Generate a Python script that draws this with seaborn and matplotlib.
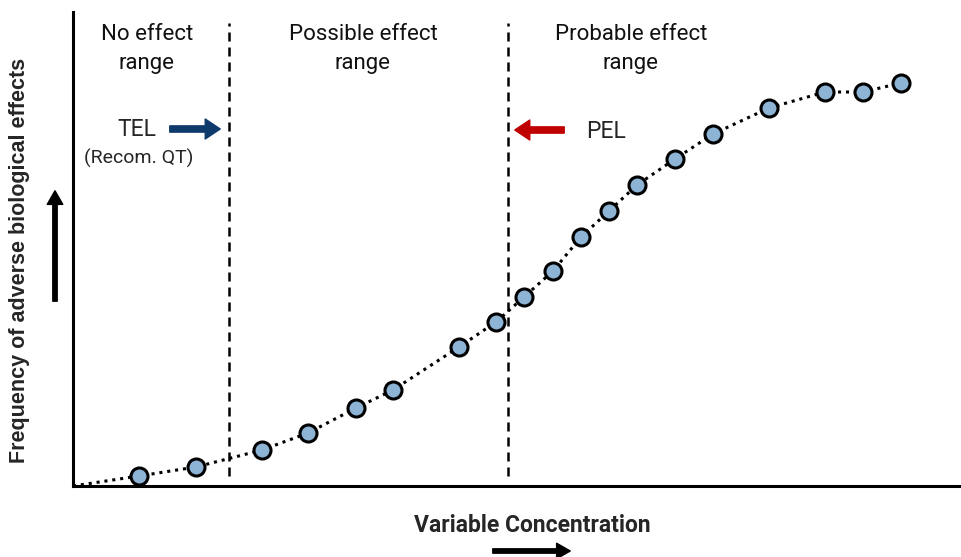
import matplotlib
matplotlib.use("Agg")
import matplotlib.pyplot as plt
import seaborn as sns
import pandas as pd

# ---- data ----
concentration = [6.6, 12.3, 18.9, 23.5, 28.3, 32.0, 38.6, 42.3, 45.1, 48.0,
                 50.8, 53.6, 56.4, 60.2, 64.0, 69.6, 75.2, 79.0, 82.8]
frequency = [1.0, 1.9, 3.6, 5.3, 7.8, 9.6, 13.9, 16.4, 18.9, 21.5,
             24.9, 27.5, 30.1, 32.7, 35.2, 37.8, 39.4, 39.4, 40.3]
tel_x = 15.6
pel_x = 43.5
range_labels = ["No effect\nrange", "Possible effect\nrange", "Probable effect\nrange"]
range_label_x = [7.4, 29.0, 55.8]
x_title = "Variable Concentration"
y_title = "Frequency of adverse biological effects"

sns.set_style("white")
W, H = 961, 557
fig = plt.figure(figsize=(W / 100, H / 100), dpi=100)
ax = fig.add_axes([73 / W, 71 / H, (960 - 73) / W, (486 - 12) / H])

df = pd.DataFrame({"x": concentration, "y": frequency})
line_df = pd.DataFrame({"x": [0.0] + concentration, "y": [0.0] + frequency})

sns.lineplot(data=line_df, x="x", y="y", ax=ax, sort=False, color="black",
             linestyle=(0, (1, 1.6)), linewidth=2.2, zorder=2)
sns.scatterplot(data=df, x="x", y="y", ax=ax, s=150, color="#8DB3D5",
                edgecolor="black", linewidth=2.2, zorder=3)

for vx in (tel_x, pel_x):
    ax.plot([vx, vx], [1.0, 46.3], color="black", linestyle=(0, (3.6, 2.4)),
            linewidth=1.8, zorder=1)

ax.set_xlim(0, 88.7)
ax.set_ylim(0, 47.4)
ax.set_xticks([])
ax.set_yticks([])
ax.set_xlabel("")
ax.set_ylabel("")
for s in ("top", "right"):
    ax.spines[s].set_visible(False)
for s in ("left", "bottom"):
    ax.spines[s].set_linewidth(2.2)
    ax.spines[s].set_color("black")

lab_font = "Roboto"
for lx, lt in zip(range_label_x, range_labels):
    ax.text(lx, 43.75, lt, ha="center", va="center", fontsize=16,
            family=lab_font, linespacing=1.5, color="#111111")

def fx(px):
    return px / W

def fy(py):
    return 1 - py / H

# TEL / PEL annotations
fig.text(fx(137), fy(130), "TEL", ha="center", va="center", fontsize=16.5, family=lab_font)
fig.text(fx(139), fy(158), "(Recom. QT)", ha="center", va="center", fontsize=14, family=lab_font)
fig.text(fx(606), fy(131), "PEL", ha="center", va="center", fontsize=16.5, family=lab_font)

fig.add_artist(matplotlib.patches.FancyArrowPatch(
    (fx(167), fy(129)), (fx(223), fy(129)), transform=fig.transFigure,
    arrowstyle="simple,head_width=1.6,head_length=1.2,tail_width=0.5",
    mutation_scale=9, color="#0E3A6B"))
fig.add_artist(matplotlib.patches.FancyArrowPatch(
    (fx(567), fy(130)), (fx(512), fy(130)), transform=fig.transFigure,
    arrowstyle="simple,head_width=1.6,head_length=1.2,tail_width=0.5",
    mutation_scale=9, color="#C00000"))

# axis titles
fig.text(fx(532), fy(526), x_title, ha="center", va="center", fontsize=16.5,
         family=lab_font, fontweight="bold")
fig.text(fx(20), fy(260), y_title, ha="center", va="center", fontsize=15.5,
         family="Liberation Sans", fontweight="bold", rotation=90)

fig.add_artist(matplotlib.patches.FancyArrowPatch(
    (fx(490), fy(551)), (fx(573), fy(551)), transform=fig.transFigure,
    arrowstyle="simple,head_width=1.6,head_length=1.4,tail_width=0.45",
    mutation_scale=7, color="black"))
fig.add_artist(matplotlib.patches.FancyArrowPatch(
    (fx(55), fy(304)), (fx(55), fy(188)), transform=fig.transFigure,
    arrowstyle="simple,head_width=1.6,head_length=1.4,tail_width=0.45",
    mutation_scale=7, color="black"))

fig.savefig("out.png", dpi=100)
